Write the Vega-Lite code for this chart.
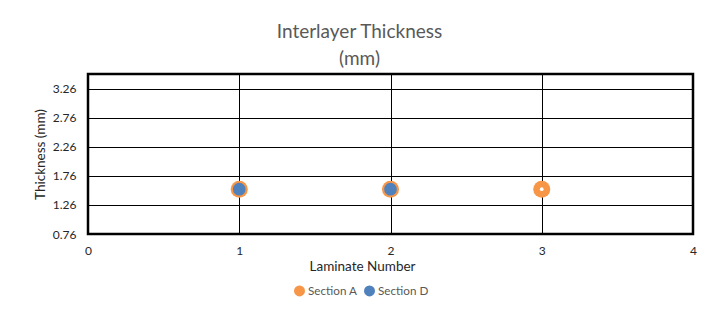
{
  "$schema": "https://vega.github.io/schema/vega-lite/v6.json",
  "autosize": "none",
  "width": 605,
  "height": 160,
  "padding": {"left": 88, "top": 74, "right": 8, "bottom": 75},
  "background": "white",
  "config": {
    "font": "Lato",
    "view": {"stroke": "black", "strokeWidth": 2.5},
    "axis": {"gridColor": "black", "gridOpacity": 1, "gridWidth": 1, "domain": false, "ticks": false, "labelColor": "#262626", "titleColor": "#262626", "labelFont": "Lato", "titleFont": "Lato", "titleFontWeight": "normal"}
  },
  "title": {
    "text": ["Interlayer Thickness", "(mm)"],
    "fontSize": 19,
    "fontWeight": "normal",
    "color": "#595959",
    "font": "Lato",
    "lineHeight": 27,
    "anchor": "middle",
    "dx": -31,
    "offset": 5
  },
  "data": {
    "values": [
      {"laminate": 1, "thickness": 1.53, "section": "Section A"},
      {"laminate": 2, "thickness": 1.53, "section": "Section A"},
      {"laminate": 3, "thickness": 1.53, "section": "Section A"},
      {"laminate": 1, "thickness": 1.53, "section": "Section D"},
      {"laminate": 2, "thickness": 1.53, "section": "Section D"}
    ]
  },
  "encoding": {
    "x": {
      "field": "laminate", "type": "quantitative",
      "scale": {"domain": [0, 4], "nice": false, "zero": false},
      "axis": {"values": [0, 1, 2, 3, 4], "title": "Laminate Number", "labelFontSize": 12, "titleFontSize": 13.5, "labelPadding": 11, "titlePadding": 3, "titleX": 274, "labelFlush": false}
    },
    "y": {
      "field": "thickness", "type": "quantitative",
      "scale": {"domain": [0.76, 3.51], "nice": false, "zero": false},
      "axis": {"values": [0.76, 1.26, 1.76, 2.26, 2.76, 3.26], "format": ".2f", "title": "Thickness (mm)", "labelFontSize": 12, "titleFontSize": 13.5, "labelPadding": 12, "titlePadding": 5}
    }
  },
  "layer": [
    {
      "transform": [{"filter": "datum.section === 'Section A'"}],
      "mark": {"type": "circle", "size": 290, "opacity": 1},
      "encoding": {
        "fill": {
          "field": "section", "type": "nominal",
          "scale": {"domain": ["Section A", "Section D"], "range": ["#F79646", "#4F81BD"]},
          "legend": {"title": null, "orient": "none", "legendX": 205, "legendY": 210, "direction": "horizontal", "symbolType": "circle", "symbolSize": 120, "labelFontSize": 11.7, "labelColor": "#595959", "labelFont": "Lato", "columnPadding": 5, "labelOffset": 2, "symbolOpacity": 1}
        }
      }
    },
    {
      "transform": [{"filter": "datum.section === 'Section A'"}],
      "mark": {"type": "circle", "size": 14, "color": "white", "opacity": 1}
    },
    {
      "transform": [{"filter": "datum.section === 'Section D'"}],
      "mark": {"type": "circle", "size": 160, "opacity": 1},
      "encoding": {
        "fill": {"field": "section", "type": "nominal"}
      }
    }
  ]
}
